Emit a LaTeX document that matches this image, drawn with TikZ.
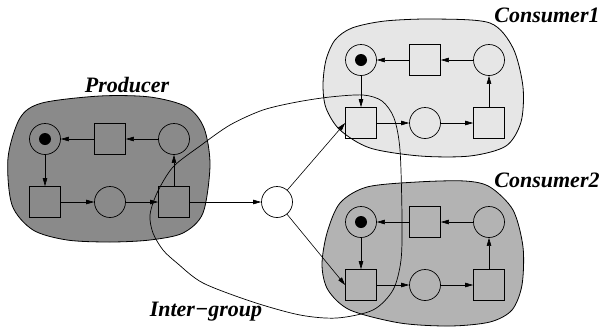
\documentclass[tikz,border=0pt]{standalone}
\usepackage{fontspec}
\setmainfont{Liberation Serif}
\usetikzlibrary{arrows.meta}
\definecolor{prodgray}{RGB}{138,138,138}
\definecolor{consAgray}{RGB}{230,230,230}
\definecolor{consBgray}{RGB}{179,179,179}
\begin{document}
\begin{tikzpicture}[x=1pt,y=-1pt,
  place/.style={circle,draw,minimum size=31pt,inner sep=0pt,line width=0.7pt},
  trans/.style={rectangle,draw,minimum size=31pt,inner sep=0pt,line width=0.7pt},
  token/.style={circle,fill=black,minimum size=12pt,inner sep=0pt},
  arc/.style={-{Triangle[length=8pt,width=4.5pt]},line width=0.6pt},
  blob/.style={draw,line width=0.8pt},
  grouplabel/.style={font=\fontsize{22}{22}\selectfont\bfseries\itshape,anchor=base,inner sep=0pt}]
\useasboundingbox (0,0) rectangle (603,330);

% group regions
\filldraw[blob,fill=prodgray] plot[smooth cycle] coordinates {
  (8,158) (20,118) (42,103) (100,96) (150,97) (187,107) (204,128) (210,165)
  (203,213) (183,233) (150,240) (110,242) (67,240) (33,230) (12,205)};
\filldraw[blob,fill=consAgray] plot[smooth cycle] coordinates {
  (323,85) (326,60) (335,40) (352,28) (385,21) (435,19) (490,23) (513,48)
  (523,87) (521,122) (506,146) (470,156) (420,156) (370,148) (340,130) (326,108)};
\filldraw[blob,fill=consBgray] plot[smooth cycle] coordinates {
  (322,265) (327,233) (340,203) (367,187) (417,182) (465,181) (490,187) (513,210)
  (523,247) (522,285) (512,310) (490,322) (450,326) (400,323) (350,310) (328,290)};

% inter-group boundary
\draw[line width=0.7pt] plot[smooth cycle] coordinates {
  (150,215) (153,233) (163,250) (177,263) (203,283) (253,302) (300,315) (337,318)
  (373,310) (393,290) (401,260) (402,217) (400,150) (394,118) (382,101) (363,95)
  (330,97) (297,102) (263,110) (230,125) (200,146) (173,167) (157,193)};

% labels
\node[grouplabel] (lprod) at (127,92) {Producer};
\node[grouplabel] (lcons1) at (547,22) {Consumer1};
\node[grouplabel] (lcons2) at (547,187) {Consumer2};
\node[grouplabel] (linter) at (206,316) {Inter−group};

% producer net
\node[place] (pp1) at (45,139) {};
\node[token] (pk) at (pp1) {};
\node[trans] (pt1) at (110,139) {};
\node[place] (pp2) at (174,139) {};
\node[trans] (pt2) at (45,202) {};
\node[place] (pp3) at (110,202) {};
\node[trans] (pt3) at (174,202) {};
\draw[arc] (pp2) -- (pt1);
\draw[arc] (pt1) -- (pp1);
\draw[arc] (pp1) -- (pt2);
\draw[arc] (pt2) -- (pp3);
\draw[arc] (pp3) -- (pt3);
\draw[arc] (pt3) -- (pp2);

% shared place
\node[place,fill=white] (cp) at (277,202) {};
\draw[arc] (pt3) -- (cp);

% consumer nets
\foreach \g/\y in {a/60,b/222}{
  \node[place] (\g p1) at (361,\y) {};
  \node[token] (\g k) at (\g p1) {};
  \node[trans] (\g t1) at (425,\y) {};
  \node[place] (\g p2) at (489,\y) {};
  \node[trans] (\g t2) at (361,\y+63) {};
  \node[place] (\g p3) at (425,\y+63) {};
  \node[trans] (\g t3) at (489,\y+63) {};
  \draw[arc] (\g p2) -- (\g t1);
  \draw[arc] (\g t1) -- (\g p1);
  \draw[arc] (\g p1) -- (\g t2);
  \draw[arc] (\g t2) -- (\g p3);
  \draw[arc] (\g p3) -- (\g t3);
  \draw[arc] (\g t3) -- (\g p2);
}
\draw[arc] (cp) -- (at2.west);
\draw[arc] (cp) -- (bt2.west);
\end{tikzpicture}
\end{document}
